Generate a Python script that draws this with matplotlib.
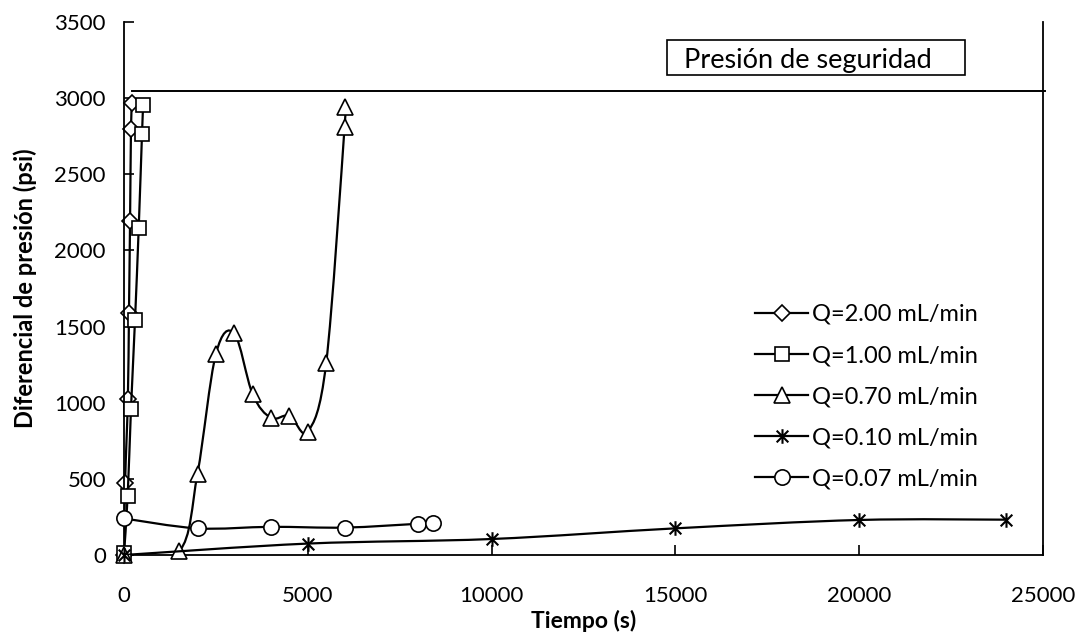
import matplotlib
matplotlib.use('Agg')
import matplotlib.pyplot as plt
from matplotlib.path import Path
from matplotlib.patches import PathPatch, Rectangle
from matplotlib.lines import Line2D
import numpy as np

plt.rcParams['font.family'] = ['Lato', 'DejaVu Sans']

# ---- data ----
t_q200 = [0, 30, 105, 135, 165, 190, 215]
p_q200 = [0, 475, 1025, 1590, 2195, 2795, 2965]
t_q100 = [0, 100, 190, 300, 400, 490, 520]
p_q100 = [10, 390, 960, 1545, 2145, 2765, 2955]
t_q070 = [0, 1500, 2000, 2500, 3000, 3500, 4000, 4500, 5000, 5500, 6000, 6000]
p_q070 = [0, 25, 535, 1320, 1455, 1055, 900, 915, 810, 1260, 2810, 2945]
t_q010 = [0, 5000, 10000, 15000, 20000, 24000]
p_q010 = [0, 75, 105, 175, 230, 232]
t_q007 = [0, 2000, 4000, 6000, 8000, 8400]
p_q007 = [240, 175, 185, 180, 205, 210]

labels = ['Q=2.00 mL/min', 'Q=1.00 mL/min', 'Q=0.70 mL/min', 'Q=0.10 mL/min', 'Q=0.07 mL/min']
safety_t = [215, 25050]
safety_p = [3050, 3050]
safety_label = 'Presión de seguridad'
x_ticks = [0, 5000, 10000, 15000, 20000, 25000]
y_ticks = [0, 500, 1000, 1500, 2000, 2500, 3000, 3500]

star = Path([(-1, -1), (1, 1), (-1, 1), (1, -1), (0, -1.25), (0, 1.25)],
            [Path.MOVETO, Path.LINETO, Path.MOVETO, Path.LINETO, Path.MOVETO, Path.LINETO])


def smooth_path(x, y):
    pts = np.column_stack([x, y]).astype(float)
    n = len(pts)
    verts = [pts[0]]
    codes = [Path.MOVETO]
    for i in range(n - 1):
        p0 = pts[i - 1] if i > 0 else pts[i]
        p1 = pts[i]
        p2 = pts[i + 1]
        p3 = pts[i + 2] if i + 2 < n else pts[i + 1]
        c1 = p1 + (p2 - p0) / 6
        c2 = p2 - (p3 - p1) / 6
        verts += [c1, c2, p2]
        codes += [Path.CURVE4] * 3
    return Path(verts, codes)


fig = plt.figure(figsize=(10.79, 6.32), dpi=100)
ax = fig.add_axes([124 / 1079, 1 - 555 / 632, (1043 - 124) / 1079, (555 - 22) / 632])

series = [
    (t_q200, p_q200, dict(marker='D', markersize=8.5)),
    (t_q100, p_q100, dict(marker='s', markersize=10.5)),
    (t_q070, p_q070, dict(marker='^', markersize=11)),
    (t_q010, p_q010, dict(marker=star, markersize=10.5, markeredgewidth=1.5)),
    (t_q007, p_q007, dict(marker='o', markersize=11)),
]

handles = []
for i, (t, p, mk) in enumerate(series):
    ax.add_patch(PathPatch(smooth_path(t, p), facecolor='none', edgecolor='black',
                           lw=1.6, zorder=2 + i))
    style = dict(color='black', markerfacecolor='white', markeredgecolor='black',
                 markeredgewidth=1.2)
    style.update(mk)
    ax.plot(t, p, linestyle='none', zorder=2.5 + i, clip_on=False, **style)
    handles.append(Line2D([0], [0], linestyle='-', lw=1.6, **style))

ax.plot(safety_t, safety_p, color='black', lw=1.4, clip_on=False, zorder=1)

# annotation box
ax.add_patch(Rectangle((14760, 3150), 8120, 235, facecolor='white', edgecolor='black',
                       lw=1.2, zorder=1))
ax.text(15230, 3250, safety_label, fontsize=19.5, va='center', ha='left')

ax.set_xlim(0, 25000)
ax.set_ylim(0, 3500)
ax.set_xticks(x_ticks)
ax.set_yticks(y_ticks)
ax.tick_params(direction='in', length=7, width=1.2, labelsize=16)
ax.tick_params(axis='x', pad=22)
ax.tick_params(axis='y', pad=13)
for s in ['left', 'bottom', 'right']:
    ax.spines[s].set_linewidth(1.3)
ax.spines['top'].set_visible(False)

ax.set_xlabel('Tiempo (s)', fontsize=16.5, fontweight='bold')
ax.xaxis.label.set_va('center')
ax.xaxis.set_label_coords(0.5, (555 - 621) / 533)
ax.set_ylabel('Diferencial de presión (psi)', fontsize=17, fontweight='bold')
ax.yaxis.label.set_va('center')
ax.yaxis.set_label_coords((25 - 124) / 919, 0.5)

ax.legend(handles, labels, loc='upper left', bbox_to_anchor=((755 - 124) / 919, (555 - 304) / 533),
          frameon=False, fontsize=17, handlelength=2.25, handletextpad=0.15,
          labelspacing=0.85, borderaxespad=0, borderpad=0)

fig.savefig('out.png', dpi=100)
